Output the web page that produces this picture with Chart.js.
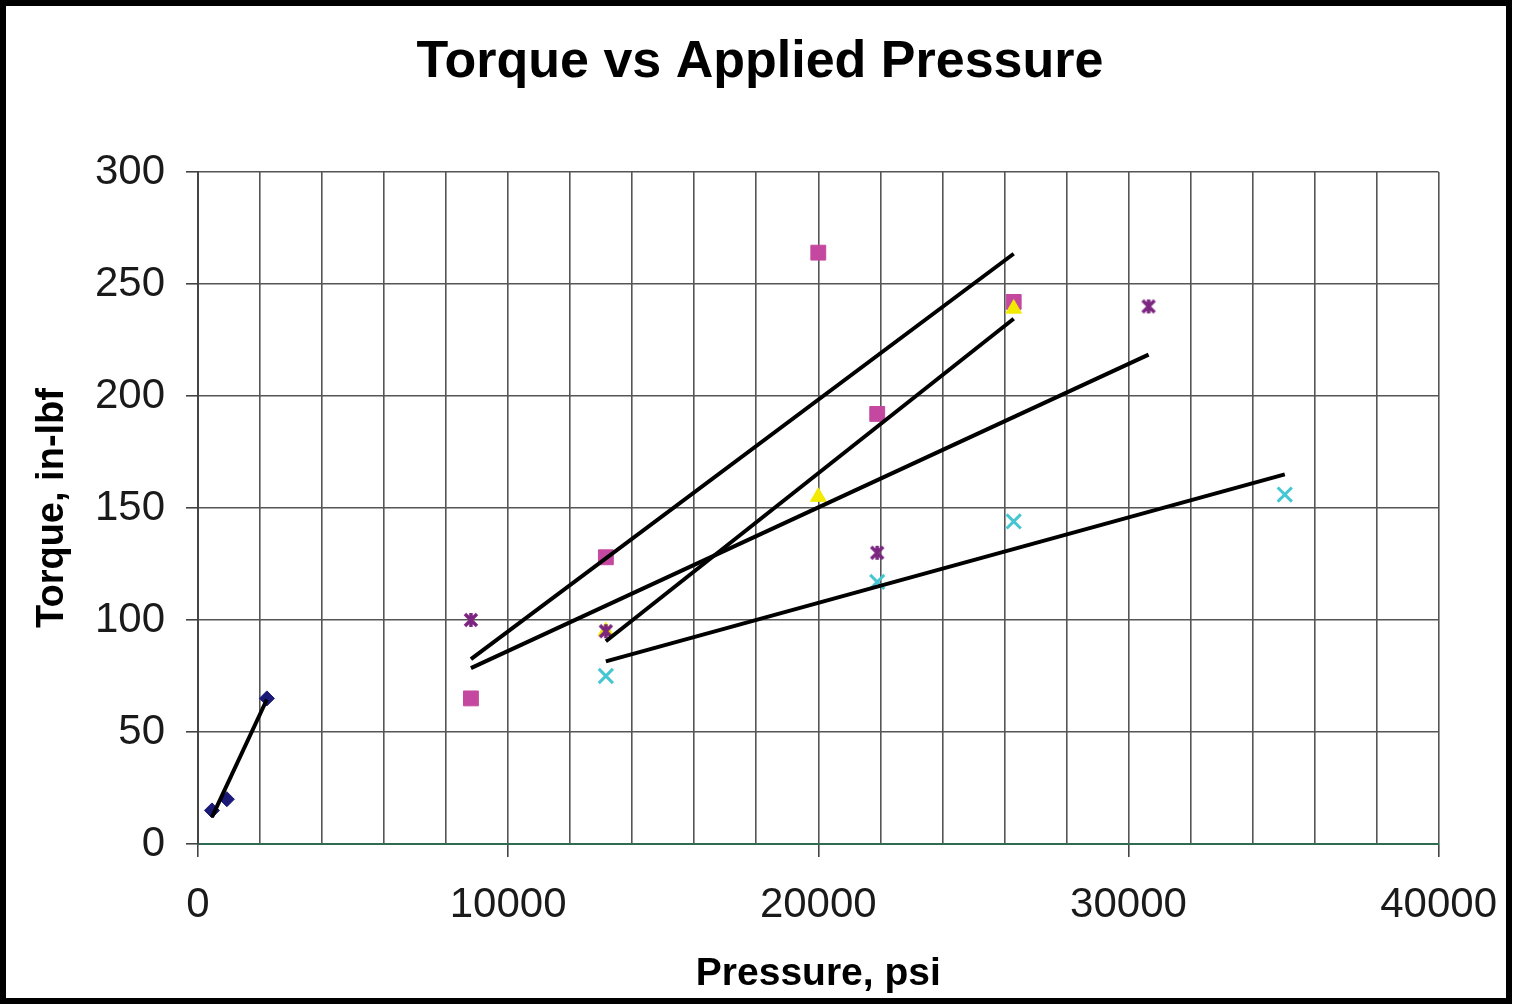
<!DOCTYPE html>
<html>
<head>
<meta charset="utf-8">
<title>Torque vs Applied Pressure</title>
<script src="https://cdn.jsdelivr.net/npm/chart.js@4.4.1/dist/chart.umd.min.js"></script>
<style>
  html, body { margin: 0; padding: 0; background: #fff; }
  #wrap { position: relative; width: 1520px; height: 1004px; }
</style>
</head>
<body>
<div id="wrap"><canvas id="chart"></canvas></div>
<script>
// measured points (pressure psi, torque in-lbf)
const navyX = [450, 930, 2220];
const navyY = [15, 20, 65];
const magentaX = [8800, 13150, 20000, 21900, 26300];
const magentaY = [65, 128, 264, 192, 242];
const yellowX = [13150, 20000, 26300];
const yellowY = [95, 155, 239];
const cyanX = [13150, 21900, 26300, 35040];
const cyanY = [75, 117, 144, 156];
const purpleX = [8800, 13150, 21900, 30650];
const purpleY = [100, 95, 130, 240];

// trend line end points
const navyTrendX = [450, 2220];
const navyTrendY = [12, 64.5];
const magentaTrendX = [8800, 26300];
const magentaTrendY = [82.5, 263.5];
const yellowTrendX = [13150, 26300];
const yellowTrendY = [90.5, 234.5];
const purpleTrendX = [8800, 30650];
const purpleTrendY = [78.5, 218.5];
const cyanTrendX = [13150, 35040];
const cyanTrendY = [81.5, 165];

const xMin = 0, xMax = 40000, xStep = 2000, xLabelEvery = 10000;
const yMin = 0, yMax = 300, yStep = 50;

const FONT = "'Liberation Sans', Arial, sans-serif";

function pts(xs, ys) {
  return xs.map((x, i) => ({ x: x, y: ys[i] }));
}

// excel style "star": an x with a vertical bar through it
function starMarker(color) {
  const c = document.createElement('canvas');
  c.width = 18; c.height = 18;
  const g = c.getContext('2d');
  g.strokeStyle = color;
  g.lineWidth = 3.5;
  g.beginPath();
  g.moveTo(3, 3); g.lineTo(15, 15);
  g.moveTo(15, 3); g.lineTo(3, 15);
  g.moveTo(9, 2); g.lineTo(9, 16);
  g.stroke();
  return c;
}

function trend(xs, ys) {
  return {
    data: pts(xs, ys),
    showLine: true,
    borderColor: '#000',
    borderWidth: 4,
    pointRadius: 0,
    order: 0
  };
}

const framePlugin = {
  id: 'frame',
  afterDraw(chart) {
    const ctx = chart.ctx;
    ctx.save();
    ctx.strokeStyle = '#000';
    ctx.lineWidth = 6;
    ctx.strokeRect(3, 3, 1506, 998);
    ctx.restore();
  }
};

const ctx = document.getElementById('chart').getContext('2d');
new Chart(ctx, {
  type: 'scatter',
  data: {
    datasets: [
      trend(navyTrendX, navyTrendY),
      trend(magentaTrendX, magentaTrendY),
      trend(yellowTrendX, yellowTrendY),
      trend(purpleTrendX, purpleTrendY),
      trend(cyanTrendX, cyanTrendY),
      {
        data: pts(purpleX, purpleY),
        pointStyle: starMarker('#7b2580'),
        order: 1
      },
      {
        data: pts(cyanX, cyanY),
        pointStyle: 'crossRot',
        pointRadius: 10,
        borderColor: '#45c6d2',
        pointBorderWidth: 3,
        order: 2
      },
      {
        data: pts(yellowX, yellowY),
        pointStyle: 'triangle',
        pointRadius: 9,
        backgroundColor: '#f2ea00',
        borderColor: '#f2ea00',
        order: 3
      },
      {
        data: pts(magentaX, magentaY),
        pointStyle: 'rect',
        pointRadius: 10.5,
        backgroundColor: '#c4489f',
        borderColor: '#c4489f',
        order: 4
      },
      {
        data: pts(navyX, navyY),
        pointStyle: 'rectRot',
        pointRadius: 7.5,
        backgroundColor: '#1c1a78',
        borderColor: '#1c1a78',
        order: 5
      }
    ]
  },
  options: {
    responsive: true,
    maintainAspectRatio: false,
    animation: false,
    layout: { padding: { left: 0, right: 0, top: 0, bottom: 0 } },
    plugins: {
      legend: { display: false },
      tooltip: { enabled: false },
      title: {
        display: true,
        text: 'Torque vs Applied Pressure',
        color: '#000',
        font: { family: FONT, size: 52, weight: 'bold' },
        padding: { top: 31, bottom: 78.6 }
      }
    },
    scales: {
      x: {
        type: 'linear',
        min: xMin,
        max: xMax,
        afterFit(s) { s.height = 160; },
        border: { color: '#2f6b52', width: 2 },
        grid: {
          color: '#555',
          lineWidth: 1.6,
          tickLength: 13,
          tickColor: (c) => (c.tick && c.tick.value % xLabelEvery === 0) ? '#444' : 'rgba(0,0,0,0)'
        },
        ticks: {
          stepSize: xStep,
          autoSkip: false,
          maxRotation: 0,
          padding: 23,
          color: '#1a1a1a',
          font: { family: FONT, size: 42 },
          callback: (v) => (v % xLabelEvery === 0) ? String(v) : ''
        },
        title: {
          display: true,
          text: 'Pressure, psi',
          color: '#000',
          font: { family: FONT, size: 39, weight: 'bold' },
          padding: { top: 0, bottom: 6 }
        }
      },
      y: {
        type: 'linear',
        min: yMin,
        max: yMax,
        afterFit(s) { s.width = 198; },
        border: { color: '#444', width: 2 },
        grid: {
          color: '#555',
          lineWidth: 1.6,
          tickLength: 12,
          tickColor: '#444'
        },
        ticks: {
          stepSize: yStep,
          padding: 21,
          color: '#1a1a1a',
          font: { family: FONT, size: 42 }
        },
        title: {
          display: true,
          text: 'Torque, in-lbf',
          color: '#000',
          font: { family: FONT, size: 38, weight: 'bold' },
          padding: { top: 30, bottom: 0 }
        }
      },
      // empty right-hand axis, only keeps the right margin so the title centres on the page
      yRight: {
        type: 'linear',
        position: 'right',
        min: yMin,
        max: yMax,
        afterFit(s) { s.width = 80; },
        border: { display: false },
        grid: { drawOnChartArea: false, drawTicks: false },
        ticks: { display: false }
      }
    }
  },
  plugins: [framePlugin]
});
</script>
</body>
</html>
